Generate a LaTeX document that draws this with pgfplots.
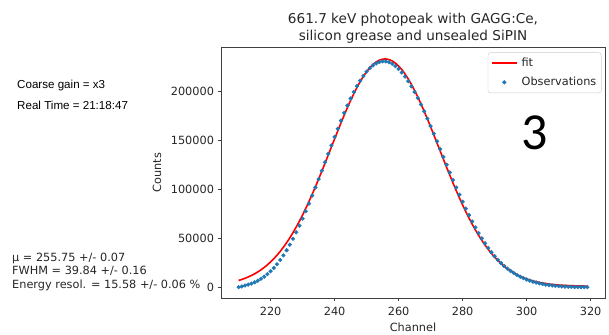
\documentclass[border=0pt]{standalone}
\usepackage{fontspec}
\setmainfont{DejaVu Sans}
\newfontfamily\arialfont{Liberation Sans}
\newfontfamily\bigfont{Carlito}
\usepackage{pgfplots}
\usepackage{pgfplotstable}
\pgfplotsset{compat=1.18}

\definecolor{obsblue}{HTML}{1F77B4}
\definecolor{fitred}{HTML}{FF0000}

% Measured spectrum around the 661.7 keV photopeak
\pgfplotstableread{
ch counts
210 200
211 838
212 1812
213 2751
214 3772
215 5088
216 6722
217 8682
218 10893
219 13481
220 16447
221 19814
222 23594
223 27905
224 32664
225 37880
226 43548
227 49677
228 56169
229 63018
230 70217
231 77750
232 85602
233 93749
234 102058
235 110601
236 119233
237 127815
238 136497
239 145125
240 153744
241 162193
242 170409
243 178328
244 185880
245 193006
246 199630
247 205698
248 211243
249 216111
250 220454
251 224014
252 226860
253 228950
254 230261
255 230972
256 230974
257 230165
258 228554
259 226250
260 223279
261 219673
262 215464
263 210705
264 205439
265 199724
266 193519
267 186888
268 179892
269 172494
270 164864
271 157078
272 149189
273 141258
274 133247
275 125309
276 117393
277 109650
278 102022
279 94638
280 87435
281 80448
282 73773
283 67347
284 61283
285 55468
286 50016
287 44934
288 40193
289 35813
290 31755
291 28031
292 24720
293 21695
294 19049
295 16666
296 14522
297 12604
298 10886
299 9361
300 8003
301 6803
302 5743
303 4808
304 3985
305 3362
306 2725
307 2267
308 1874
309 1441
310 1160
311 923
312 725
313 558
314 421
315 305
316 209
317 180
318 167
319 164
}\obsdata

% Gaussian fit evaluated at each channel
\pgfplotstableread{
ch counts
210 7008
211 8038
212 9212
213 10551
214 12072
215 13788
216 15722
217 17882
218 20293
219 22981
220 25947
221 29214
222 32794
223 36705
224 40964
225 45580
226 50548
227 55877
228 61569
229 67618
230 74017
231 80750
232 87802
233 95149
234 102758
235 110601
236 118633
237 126815
238 135097
239 143425
240 151744
241 159993
242 168109
243 176028
244 183680
245 191006
246 197930
247 204398
248 210343
249 215711
250 220454
251 224514
252 227860
253 230450
254 232261
255 233272
256 233474
257 232865
258 231454
259 229250
260 226279
261 222573
262 218164
263 213105
264 207439
265 201224
266 194519
267 187388
268 179892
269 172094
270 164064
271 155878
272 147589
273 139258
274 130947
275 122709
276 114593
277 106650
278 98922
279 91438
280 84235
281 77348
282 70773
283 64547
284 58683
285 53168
286 48016
287 43234
288 38793
289 34713
290 30955
291 27531
292 24420
293 21595
294 19049
295 16766
296 14722
297 12904
298 11286
299 9861
300 8603
301 7503
302 6543
303 5708
304 4985
305 4362
306 3825
307 3367
308 2974
309 2641
310 2360
311 2123
312 1925
313 1758
314 1621
315 1505
316 1409
317 1330
318 1267
319 1214
}\fitdata

\begin{document}
\begin{tikzpicture}
\useasboundingbox (0bp,0bp) rectangle (609bp,335bp);
\begin{axis}[
  at={(221bp,37bp)}, anchor=south west,
  width=384bp, height=251bp, scale only axis,
  xmin=204.5, xmax=324.5,
  ymin=-10940, ymax=245700,
  xtick={220,240,...,320},
  ytick={0,50000,...,200000},
  scaled y ticks=false,
  yticklabel style={/pgf/number format/fixed, /pgf/number format/1000 sep={}},
  /pgf/number format/assume math mode=true,
  tick align=outside, tick pos=left,
  major tick length=3.5bp,
  tick style={black!75, line width=0.9bp},
  axis line style={black!75, line width=0.9bp},
  ticklabel style={font=\fontsize{11.3bp}{13bp}\selectfont, text=black!85},
  xticklabel style={yshift=-2bp},
  xlabel={Channel},
  ylabel={Counts},
  label style={font=\fontsize{11.3bp}{13bp}\selectfont, text=black!85},
  xlabel style={at={(axis description cs:0.5,-0.1155)}, anchor=center},
  ylabel style={at={(axis description cs:-0.1667,0.5)}, anchor=center},
  legend style={at={(rel axis cs:1,1)}, anchor=north east, xshift=-3.5bp, yshift=-5.5bp,
    draw=black!20, rounded corners=2.5bp, fill=white,
    font=\fontsize{11.3bp}{13bp}\selectfont, text=black!85,
    inner xsep=3bp, inner ysep=3.5bp, row sep=5bp, column sep=2bp,
    cells={anchor=west}},
  legend image code/.code={\draw[mark repeat=2,mark phase=2,#1] plot coordinates {(0bp,0bp) (12.5bp,0bp) (25bp,0bp)};},
  reverse legend,
]
\addplot[only marks, mark=*, mark size=1.9bp, color=obsblue, mark options={draw=obsblue, fill=obsblue}]
  table[x=ch, y=counts]{\obsdata};
\addlegendentry{Observations}
\addplot[fitred, line width=1.6bp, no marks] table[x=ch, y=counts]{\fitdata};
\addlegendentry{fit}
\end{axis}

% title
\node[anchor=base, inner sep=0, font=\fontsize{13.6bp}{16bp}\selectfont, text=black!85] at (413bp,311bp) {661.7 keV photopeak with GAGG:Ce,};
\node[anchor=base, inner sep=0, font=\fontsize{13.6bp}{16bp}\selectfont, text=black!85] at (413bp,294.7bp) {silicon grease and unsealed SiPIN};

% acquisition settings
\node[anchor=base west, inner sep=0, font=\arialfont\fontsize{11.6bp}{14bp}\selectfont] at (17bp,246bp) {Coarse gain = x3};
\node[anchor=base west, inner sep=0, font=\arialfont\fontsize{11.6bp}{14bp}\selectfont] at (17bp,225bp) {Real Time = 21:18:47};

% fit results
\node[anchor=base west, inner sep=0, font=\fontsize{11.3bp}{13bp}\selectfont, text=black!85] at (12bp,73.6bp) {µ = 255.75 +/- 0.07};
\node[anchor=base west, inner sep=0, font=\fontsize{11.3bp}{13bp}\selectfont, text=black!85] at (12bp,60.2bp) {FWHM = 39.84 +/- 0.16};
\node[anchor=base west, inner sep=0, font=\fontsize{11.3bp}{13bp}\selectfont, text=black!85] at (12bp,46.8bp) {Energy resol. = 15.58 +/- 0.06 \%};

% run number
\node[anchor=base west, inner sep=0, font=\bigfont\fontsize{52bp}{60bp}\selectfont] at (521bp,185bp) {3};
\end{tikzpicture}
\end{document}
